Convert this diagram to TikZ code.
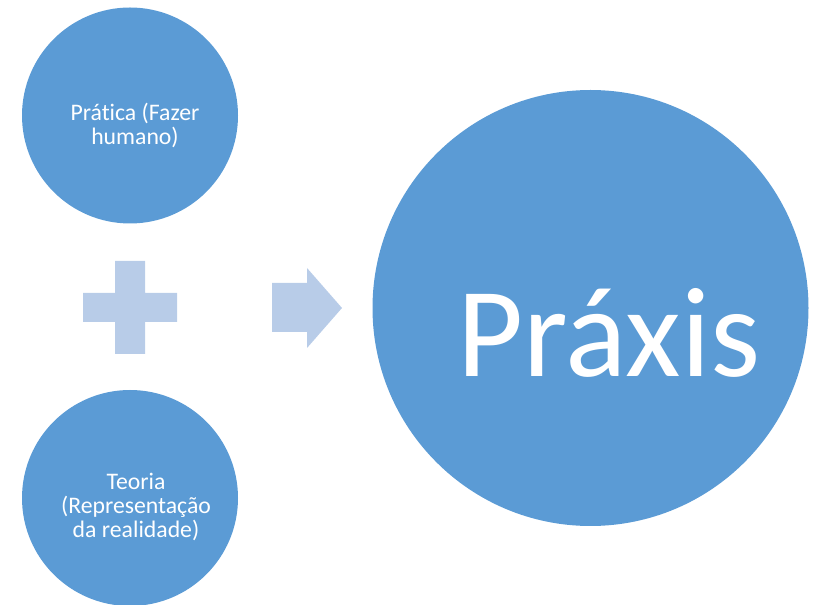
\documentclass[tikz,border=0pt]{standalone}
\usepackage{fontspec}
\setmainfont[Ligatures=NoCommon]{Carlito}
\definecolor{circblue}{RGB}{91,155,213}
\definecolor{lightblue}{RGB}{184,204,232}
\begin{document}
\begin{tikzpicture}[x=0.75pt,y=-0.75pt,
  bigcirc/.style={circle,fill=circblue,draw=none,inner sep=0pt},
  smalltext/.style={text=white,align=center,font=\fontsize{17.8}{18}\selectfont},
  symb/.style={fill=lightblue,draw=none}]
\useasboundingbox (0,0) rectangle (818,605);
\clip (0,0) rectangle (818,605);
% circles
\node[bigcirc,minimum size=162pt] (prat) at (130,115.5) {};
\node[smalltext] (pratT) at (135,125) {Prática (Fazer\\humano)};
\node[bigcirc,minimum size=162pt] (teo) at (130,498) {};
\node[smalltext] (teoT) at (136,507) {Teoria\\(Representação\\da realidade)};
\node[bigcirc,minimum size=327pt] (prax) at (590.5,308) {};
\node[text=white,font=\fontsize{96}{110}\selectfont,anchor=base] (praxT) at (609,377) {Práxis};
% plus
\path[symb] (115,261) -- (145,261) -- (145,293) -- (177,293) -- (177,322) -- (145,322)
  -- (145,354) -- (115,354) -- (115,322) -- (83,322) -- (83,293) -- (115,293) -- cycle;
% arrow
\path[symb] (272,283) -- (307,283) -- (307,268) -- (342,308) -- (307,348) -- (307,332)
  -- (272,332) -- cycle;
\end{tikzpicture}
\end{document}
